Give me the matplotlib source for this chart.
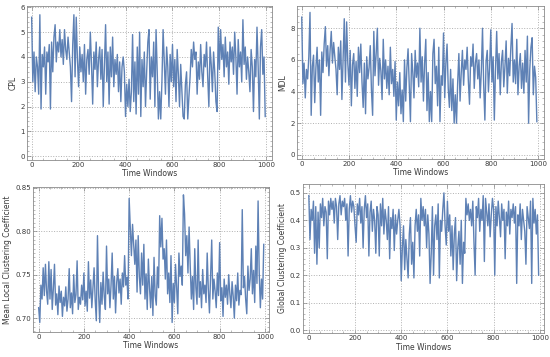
import numpy as np
import matplotlib.pyplot as plt
from matplotlib.ticker import MultipleLocator

# time windows, sampled every 5
windows = np.arange(0, 1000, 5)

cpl = [5.6, 3.0, 4.2, 2.6, 4.0, 3.6, 2.5, 5.7, 1.9, 4.1,
       3.6, 4.4, 2.5, 4.2, 3.8, 4.5, 1.9, 4.6, 3.4, 4.8,
       5.3, 3.8, 4.6, 4.2, 5.1, 4.0, 4.7, 3.7, 5.1, 4.3,
       3.9, 4.8, 4.2, 3.6, 2.2, 4.5, 5.7, 3.2, 5.6, 3.9,
       2.8, 4.4, 3.4, 4.1, 3.0, 4.5, 2.5, 3.9, 4.3, 3.3,
       5.0, 3.7, 2.1, 4.2, 3.5, 4.6, 2.8, 3.9, 4.4, 3.1,
       4.3, 2.0, 3.6, 5.3, 3.0, 4.2, 2.1, 4.4, 3.2, 4.8,
       2.8, 3.9, 3.3, 4.1, 2.6, 3.8, 2.2, 3.6, 4.0, 3.4,
       1.6, 2.9, 2.0, 3.1, 1.8, 2.6, 4.9, 2.2, 3.8, 1.7,
       4.4, 2.5, 5.0, 1.6, 3.9, 2.8, 4.2, 2.0, 3.4, 4.6,
       5.1, 2.3, 4.0, 3.2, 4.6, 2.0, 5.1, 3.4, 1.5, 2.6,
       1.5, 3.0, 5.1, 3.8, 2.5, 4.4, 3.6, 2.0, 4.1, 3.0,
       4.5, 2.8, 3.9, 2.2, 4.3, 3.3, 2.0, 3.7, 2.6, 1.6,
       1.5, 2.9, 3.4, 1.5, 2.4, 3.2, 4.3, 3.6, 4.6, 3.9,
       4.2, 2.5, 3.8, 3.1, 4.5, 3.4, 2.8, 4.1, 3.6, 4.6,
       3.2, 2.0, 4.4, 3.7, 2.6, 4.2, 3.4, 2.2, 1.8, 5.2,
       3.5, 5.1, 3.9, 4.5, 3.2, 4.8, 3.6, 4.2, 2.9, 4.6,
       3.8, 4.4, 3.3, 5.0, 4.0, 2.5, 4.7, 3.6, 4.2, 3.0,
       5.5, 3.7, 4.4, 3.1, 4.0, 3.4, 2.6, 4.3, 3.6, 1.8,
       3.9, 3.2, 5.2, 3.6, 1.5, 4.4, 5.1, 3.3, 4.0, 1.6]

mdl = [8.7, 4.5, 5.8, 3.6, 5.4, 4.8, 6.2, 9.0, 2.5, 5.6,
       6.3, 3.3, 5.5, 6.8, 4.6, 6.0, 2.5, 6.5, 5.2, 7.0,
       8.1, 5.6, 6.9, 5.0, 6.6, 7.8, 5.8, 7.1, 6.2, 5.4,
       3.8, 6.8, 5.4, 7.2, 3.5, 6.0, 8.6, 4.6, 8.4, 5.8,
       4.4, 6.6, 3.1, 5.7, 6.4, 4.2, 5.9, 3.7, 6.8, 5.2,
       7.0, 4.6, 3.0, 5.8, 2.6, 6.2, 4.8, 5.5, 6.9, 4.1,
       2.5, 7.8, 5.0, 6.4, 8.0, 4.4, 6.1, 5.3, 3.5, 7.3,
       4.8, 6.0, 4.2, 5.6, 3.8, 6.8, 4.5, 5.4, 3.7, 5.9,
       2.2, 4.6, 3.1, 5.2, 2.6, 4.1, 2.1, 6.0, 3.4, 5.5,
       6.7, 4.4, 2.1, 6.4, 5.2, 3.6, 6.6, 4.9, 5.8, 4.3,
       8.0, 4.6, 6.2, 3.4, 5.8, 7.3, 2.8, 5.2, 2.1, 4.0,
       2.1, 6.4, 7.3, 4.5, 5.6, 3.1, 6.8, 2.1, 5.0, 4.4,
       7.7, 3.6, 5.8, 7.0, 4.2, 3.0, 5.4, 2.8, 4.8, 2.0,
       3.8, 2.0, 4.6, 6.4, 3.4, 5.2, 6.6, 4.4, 6.0, 5.4,
       6.8, 4.7, 3.2, 6.2, 5.6, 7.0, 4.2, 5.8, 6.4, 4.8,
       6.0, 3.6, 5.3, 8.0, 4.4, 2.2, 5.9, 6.6, 4.0, 5.5,
       7.9, 4.6, 6.2, 2.2, 5.4, 7.8, 4.8, 6.4, 3.8, 5.9,
       6.6, 4.3, 5.6, 7.2, 3.9, 6.1, 5.0, 6.8, 8.3, 4.6,
       6.0, 4.5, 7.3, 3.8, 5.6, 6.4, 4.2, 5.8, 3.9, 6.6,
       4.6, 7.5, 2.0, 5.4, 6.8, 7.4, 3.8, 5.6, 4.9, 2.1]

mlcc = [0.712, 0.695, 0.738, 0.722, 0.758, 0.726, 0.762, 0.731, 0.716, 0.765,
        0.722, 0.756, 0.710, 0.734, 0.762, 0.715, 0.728, 0.704, 0.737, 0.718,
        0.731, 0.702, 0.724, 0.714, 0.736, 0.708, 0.722, 0.757, 0.712, 0.729,
        0.705, 0.750, 0.718, 0.727, 0.766, 0.710, 0.724, 0.716, 0.738, 0.721,
        0.752, 0.714, 0.731, 0.708, 0.765, 0.723, 0.744, 0.712, 0.736, 0.758,
        0.720, 0.697, 0.795, 0.728, 0.695, 0.741, 0.716, 0.753, 0.725, 0.710,
        0.783, 0.728, 0.745, 0.712, 0.738, 0.775, 0.722, 0.748, 0.706, 0.741,
        0.757, 0.729, 0.745, 0.716, 0.752, 0.736, 0.772, 0.738, 0.747, 0.722,
        0.838, 0.805, 0.772, 0.808, 0.786, 0.762, 0.790, 0.730, 0.795, 0.748,
        0.728, 0.775, 0.738, 0.785, 0.722, 0.751, 0.710, 0.768, 0.735, 0.712,
        0.748, 0.703, 0.770, 0.726, 0.715, 0.759, 0.735, 0.818, 0.782, 0.815,
        0.768, 0.780, 0.745, 0.790, 0.728, 0.752, 0.718, 0.772, 0.695, 0.740,
        0.718, 0.762, 0.735, 0.705, 0.775, 0.748, 0.760, 0.738, 0.842, 0.820,
        0.772, 0.795, 0.752, 0.805, 0.760, 0.722, 0.748, 0.710, 0.780, 0.735,
        0.716, 0.790, 0.724, 0.742, 0.712, 0.756, 0.728, 0.738, 0.718, 0.775,
        0.733, 0.706, 0.748, 0.790, 0.722, 0.745, 0.731, 0.712, 0.752, 0.726,
        0.787, 0.720, 0.735, 0.702, 0.745, 0.724, 0.738, 0.716, 0.750, 0.728,
        0.712, 0.742, 0.725, 0.700, 0.738, 0.720, 0.752, 0.715, 0.732, 0.727,
        0.825, 0.735, 0.748, 0.722, 0.705, 0.760, 0.732, 0.745, 0.780, 0.728,
        0.755, 0.718, 0.783, 0.740, 0.835, 0.752, 0.712, 0.745, 0.722, 0.785]

gcc = [0.49, 0.33, 0.44, 0.40, 0.47, 0.28, 0.45, 0.24, 0.43, 0.30,
       0.46, 0.41, 0.48, 0.38, 0.45, 0.43, 0.26, 0.47, 0.42, 0.48,
       0.44, 0.47, 0.39, 0.48, 0.45, 0.33, 0.46, 0.49, 0.42, 0.47,
       0.45, 0.48, 0.40, 0.46, 0.27, 0.44, 0.49, 0.43, 0.47, 0.45,
       0.38, 0.32, 0.46, 0.42, 0.48, 0.39, 0.45, 0.30, 0.44, 0.49,
       0.41, 0.46, 0.27, 0.43, 0.47, 0.36, 0.44, 0.40, 0.28, 0.45,
       0.42, 0.27, 0.46, 0.38, 0.48, 0.35, 0.44, 0.40, 0.33, 0.45,
       0.26, 0.41, 0.37, 0.44, 0.29, 0.42, 0.35, 0.40, 0.44, 0.38,
       0.18, 0.30, 0.38, 0.22, 0.33, 0.26, 0.19, 0.35, 0.41, 0.24,
       0.32, 0.19, 0.38, 0.44, 0.36, 0.42, 0.27, 0.48, 0.40, 0.45,
       0.38, 0.44, 0.30, 0.42, 0.35, 0.17, 0.28, 0.45, 0.20, 0.38,
       0.42, 0.33, 0.46, 0.19, 0.40, 0.36, 0.44, 0.50, 0.38, 0.31,
       0.47, 0.36, 0.42, 0.27, 0.38, 0.22, 0.35, 0.41, 0.18, 0.30,
       0.36, 0.24, 0.40, 0.17, 0.32, 0.28, 0.48, 0.42, 0.46, 0.40,
       0.44, 0.38, 0.47, 0.32, 0.20, 0.45, 0.41, 0.48, 0.36, 0.44,
       0.40, 0.49, 0.25, 0.48, 0.43, 0.38, 0.46, 0.34, 0.42, 0.48,
       0.44, 0.20, 0.45, 0.38, 0.47, 0.41, 0.34, 0.46, 0.40, 0.44,
       0.26, 0.43, 0.38, 0.47, 0.35, 0.44, 0.41, 0.46, 0.39, 0.45,
       0.17, 0.42, 0.38, 0.46, 0.33, 0.44, 0.40, 0.36, 0.24, 0.45,
       0.41, 0.37, 0.47, 0.17, 0.48, 0.39, 0.44, 0.35, 0.42, 0.20]

line_color = '#5E81B5'
frame_color = '#8a8a8a'
text_color = '#3a3a3a'

fig = plt.figure(figsize=(5.5, 3.57), dpi=100)

# [left, bottom, width, height] in figure fractions
panels = [
    (cpl, 'CPL', [0.049, 0.552, 0.446, 0.431], (-20, 1025), (-0.15, 6.05), 1, 0.2),
    (mdl, 'MDL', [0.540, 0.555, 0.449, 0.428], (-20, 1025), (-0.25, 9.4), 2, 0.4),
    (mlcc, 'Mean Local Clustering Coefficient', [0.060, 0.070, 0.429, 0.406],
     (-25, 1018), (0.684, 0.851), 0.05, 0.005),
    (gcc, 'Global Clustering Coefficient', [0.551, 0.067, 0.438, 0.418],
     (-25, 1018), (-0.011, 0.533), 0.1, 0.02),
]

for values, label, rect, xlim, ylim, ymaj, ymin in panels:
    ax = fig.add_axes(rect)
    ax.plot(windows, values, color=line_color, linewidth=1.0)
    ax.set_xlim(*xlim)
    ax.set_ylim(*ylim)
    ax.xaxis.set_major_locator(MultipleLocator(200))
    ax.xaxis.set_minor_locator(MultipleLocator(50))
    ax.yaxis.set_major_locator(MultipleLocator(ymaj))
    ax.yaxis.set_minor_locator(MultipleLocator(ymin))
    ax.grid(True, which='major', linestyle=':', color='#b0b0b0', linewidth=0.7)
    ax.tick_params(which='both', direction='in', top=True, right=True,
                   colors=frame_color, labelcolor=text_color, labelsize=5, pad=1.5)
    ax.tick_params(which='major', length=3, width=0.5)
    ax.tick_params(which='minor', length=1.5, width=0.4)
    for s in ax.spines.values():
        s.set_color(frame_color)
        s.set_linewidth(0.6)
    ax.set_xlabel('Time Windows', fontsize=5.5, color=text_color, labelpad=1)
    ax.set_ylabel(label, fontsize=5.5, color=text_color, labelpad=2)

fig.savefig('out.png', dpi=100)
